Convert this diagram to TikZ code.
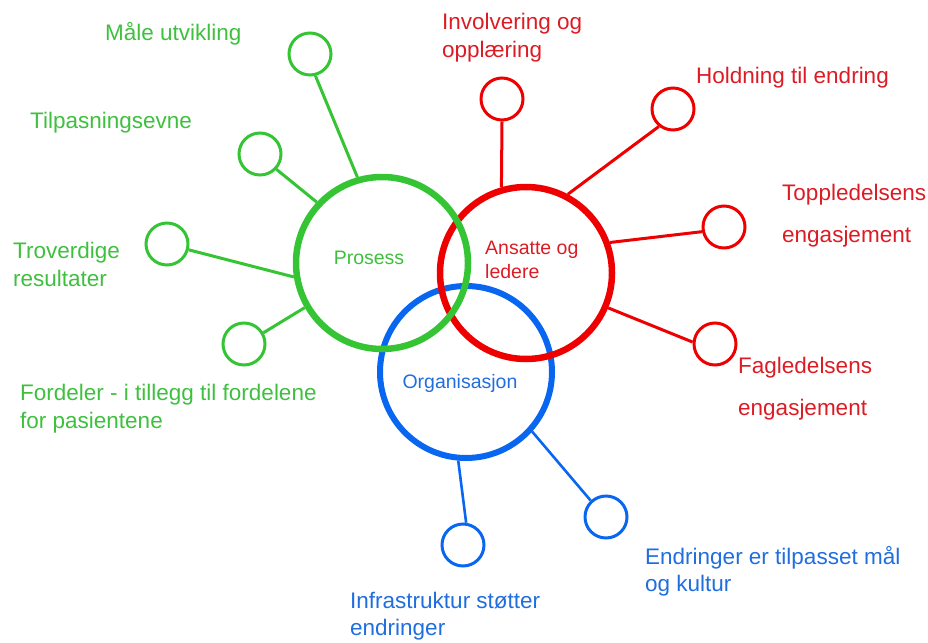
\documentclass[tikz,border=0pt]{standalone}
\usepackage{fontspec}
\setmainfont{Liberation Sans}
\usetikzlibrary{backgrounds}
\definecolor{gring}{RGB}{52,196,52}
\definecolor{gtext}{RGB}{62,192,62}
\definecolor{rring}{RGB}{238,0,0}
\definecolor{rtext}{RGB}{220,28,36}
\definecolor{bring}{RGB}{8,102,240}
\definecolor{btext}{RGB}{32,110,222}
\begin{document}
\begin{tikzpicture}[x=1pt,y=-1pt,
  bigring/.style={circle, draw, minimum size=172pt, inner sep=0pt, line width=6.5pt},
  smallring/.style={circle, draw, minimum size=42pt, inner sep=0pt, line width=3pt},
  conn/.style={line width=3pt},
  lbl/.style={inner sep=0pt, align=left, anchor=west, font=\fontsize{22.5}{28}\selectfont},
  lblwide/.style={lbl, font=\fontsize{22.5}{42}\selectfont},
  inlbl/.style={inner sep=0pt, align=left, font=\fontsize{19.5}{24}\selectfont}]
\useasboundingbox (0,0) rectangle (928,642);

% small circles
\node[smallring, gring] (g1) at (310,54) {};
\node[smallring, gring] (g2) at (260,154) {};
\node[smallring, gring] (g3) at (167,244) {};
\node[smallring, gring] (g4) at (244,344) {};
\node[smallring, rring] (r1) at (502,99) {};
\node[smallring, rring] (r2) at (673,109) {};
\node[smallring, rring] (r3) at (724,227) {};
\node[smallring, rring] (r4) at (715,344) {};
\node[smallring, bring] (b1) at (463,545) {};
\node[smallring, bring] (b2) at (606,517) {};

% big circles
\node[bigring, bring, line width=6pt] (B) at (466,372) {};
\node[bigring, rring] (R) at (526,273) {};
\node[bigring, gring] (G) at (382,263) {};

% connectors (under the rings)
\begin{scope}[on background layer]
\draw[conn, gring] (g1.284) -- (G.106);
\draw[conn, gring] (g2.317) -- (G.137);
\draw[conn, gring] (g3.345) -- (G.189);
\draw[conn, gring] (g4.30) -- (G.210);
\draw[conn, rring] (r1.south) -- (R.106);
\draw[conn, rring] (r2.231) -- (R.62);
\draw[conn, rring] (r3.192) -- (R.20);
\draw[conn, rring] (r4.175) -- (R.337);
\draw[conn, bring, line width=2.6pt] (b1.82) -- (B.265);
\draw[conn, bring, line width=2.6pt] (b2.133) -- (B.318);
\end{scope}

% inner labels
\node[inlbl, gtext] (tG) at (369,258) {Prosess};
\node[inlbl, rtext, anchor=west] (tR) at (485,260) {Ansatte og\\ledere};
\node[inlbl, btext] (tB) at (460,383) {Organisasjon};

% outer labels
\node[lbl, gtext] (l1) at (105,34) {Måle utvikling};
\node[lbl, gtext] (l2) at (30,123) {Tilpasningsevne};
\node[lbl, gtext] (l3) at (13,264) {Troverdige\\resultater};
\node[lbl, gtext] (l4) at (20,409) {Fordeler - i tillegg til fordelene\\for pasientene};
\node[lbl, rtext] (l5) at (442,37.5) {Involvering og\\opplæring};
\node[lbl, rtext] (l6) at (696,78) {Holdning til endring};
\node[lblwide, rtext] (l7) at (782,216) {Toppledelsens\\engasjement};
\node[lblwide, rtext] (l8) at (738,389) {Fagledelsens\\engasjement};
\node[lbl, btext, font=\fontsize{22.5}{27}\selectfont] (l9) at (350,616) {Infrastruktur støtter\\endringer};
\node[lbl, btext, font=\fontsize{22.5}{27}\selectfont] (l10) at (645,571) {Endringer er tilpasset mål\\og kultur};
\end{tikzpicture}
\end{document}
